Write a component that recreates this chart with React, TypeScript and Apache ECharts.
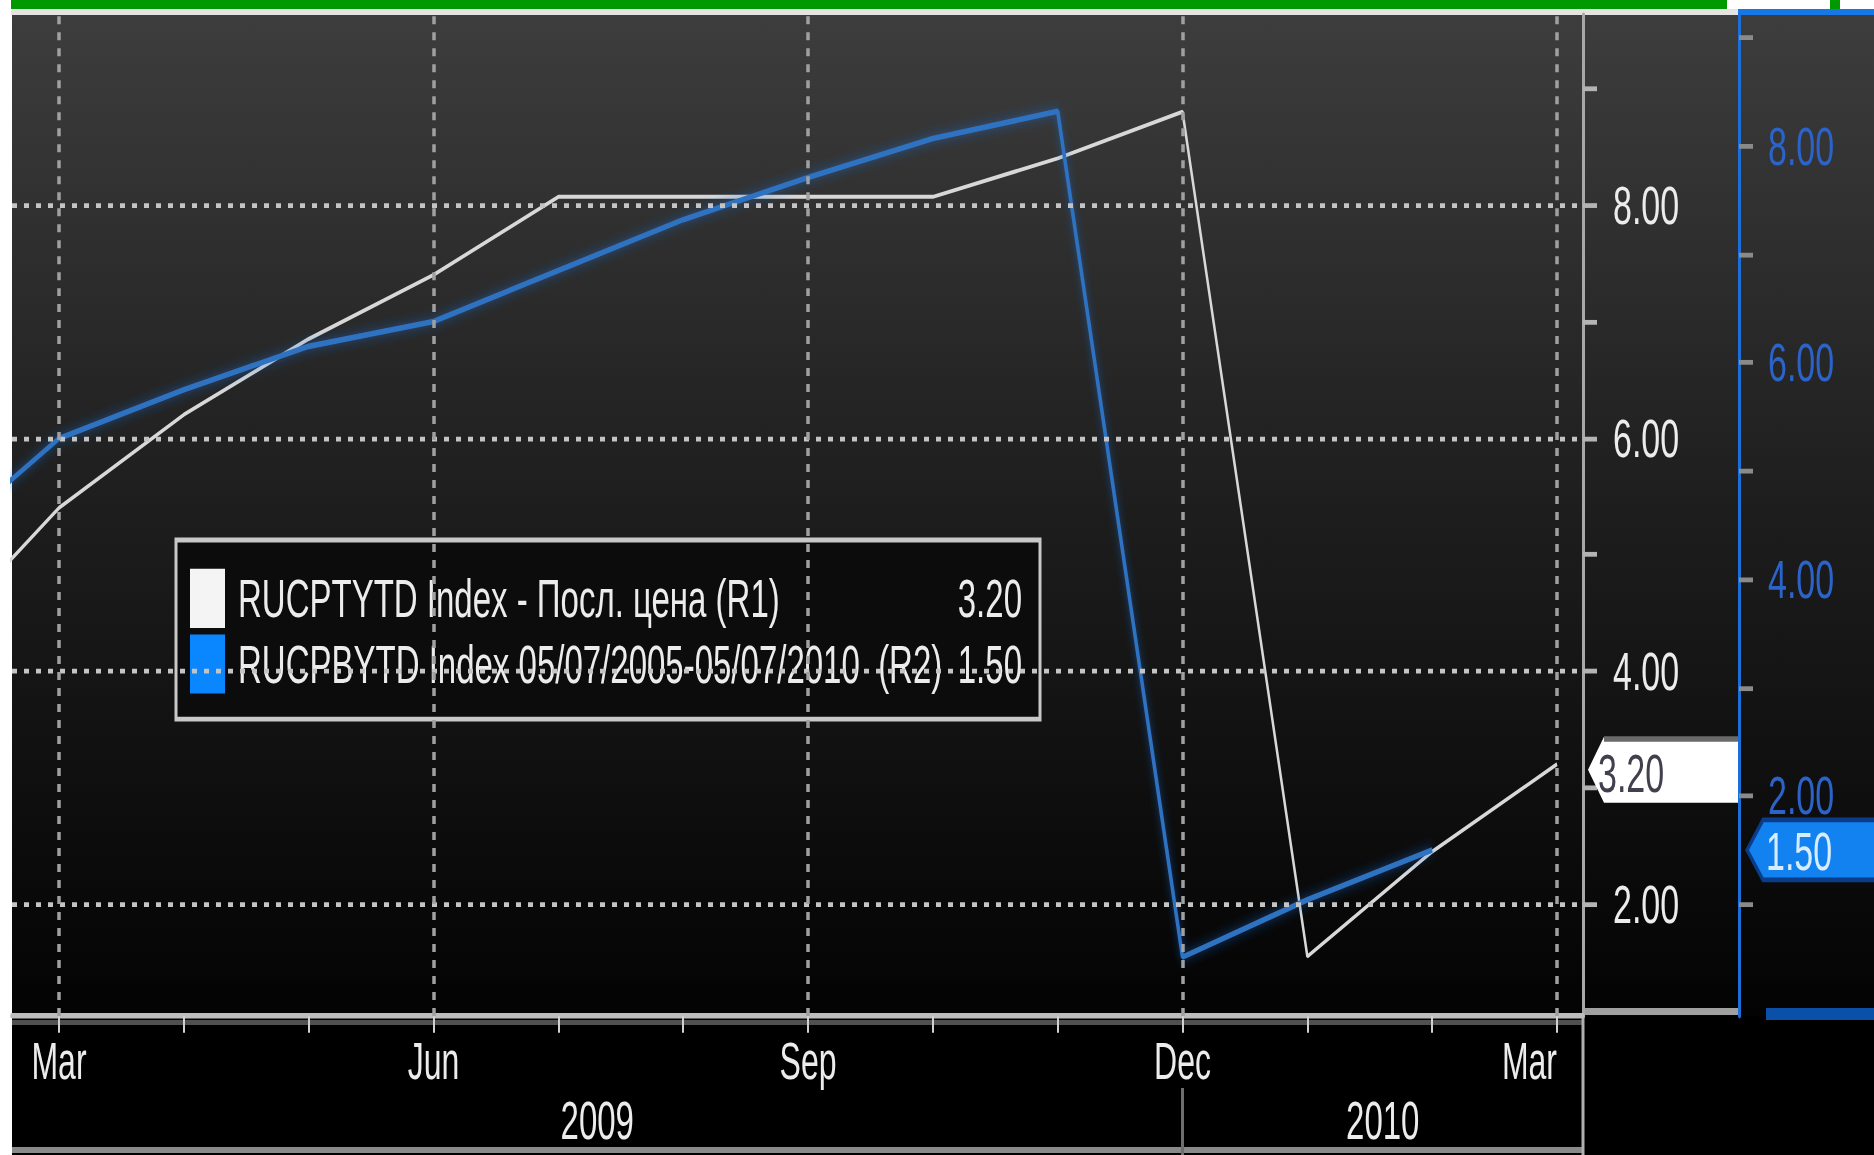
import React, { useEffect, useRef } from "react";
import * as echarts from "echarts";

// ---- data ----
const periods = ["Feb 2009", "Mar 2009", "Apr 2009", "May 2009", "Jun 2009", "Jul 2009", "Aug 2009", "Sep 2009", "Oct 2009", "Nov 2009", "Dec 2009", "Jan 2010", "Feb 2010", "Mar 2010"];
const periodX = [-1, 0, 1, 2, 3, 4, 5, 6, 7, 8, 9, 10, 11, 12];
const cpiYtd = [4.25, 5.4, 6.2, 6.85, 7.4, 8.07, 8.07, 8.07, 8.07, 8.4, 8.8, 1.55, 2.45, 3.2];
const coreYtd = [4.3, 5.3, 5.75, 6.15, 6.38, 6.85, 7.32, 7.71, 8.07, 8.32, 0.51, 1.04, 1.5, null];
const seriesNames = ["RUCPTYTD Index - Посл. цена (R1)", "RUCPBYTD Index 05/07/2005-05/07/2010  (R2)"];
const monthTickLabels = ["Mar", "Apr", "May", "Jun", "Jul", "Aug", "Sep", "Oct", "Nov", "Dec", "Jan", "Feb", "Mar"];
const monthTickValues = [0, 1, 2, 3, 4, 5, 6, 7, 8, 9, 10, 11, 12];
const monthLabelValues = [0, 3, 6, 9, 12];
const years = ["2009", "2010"];
const yearBoundary = 9;
const r1LabelValues = [2, 4, 6, 8];
const r1TickValues = [1, 2, 3, 4, 5, 6, 7, 8, 9];
const r2LabelValues = [2, 4, 6, 8];
const r2TickValues = [1, 2, 3, 4, 5, 6, 7, 8, 9];

// ---- layout ----
const W = 1874;
const H = 722;
const S = 1155 / H;
const FONT = "'Liberation Sans', Arial, Helvetica, sans-serif";
const X_MIN = -0.3765;
const X_MAX = 12.208;
const GRID_LEFT = 12;
const GRID_RIGHT_X = 1583;
const GRID_TOP = 15 / S;
const GRID_BOTTOM_Y = 1016 / S;

function lastValue(arr: (number | null)[]) {
  for (let i = arr.length - 1; i >= 0; i--) if (arr[i] != null) return arr[i] as number;
  return 0;
}

export default function App() {
  const ref = useRef<HTMLDivElement>(null);
  useEffect(() => {
    if (!ref.current) return;
    const chart = echarts.init(ref.current, null, { renderer: "svg" });
    const lastW = lastValue(cpiYtd);
    const lastB = lastValue(coreYtd);
    const lastVals = [lastW, lastB];
    const yearCenters = [(X_MIN + yearBoundary) / 2, (yearBoundary + X_MAX) / 2];

    const hGrid = r1LabelValues.map((v) => ({
      yAxis: v,
      lineStyle: { color: "#c4c4c4", type: [5, 7], width: 3 },
    }));
    const vGrid = monthLabelValues.map((v) => ({
      xAxis: v,
      lineStyle: { color: "#a0a0a0", type: [5, 5], width: 3.5 },
    }));

    const option: any = {
      animation: false,
      backgroundColor: "transparent",
      grid: {
        left: GRID_LEFT,
        top: GRID_TOP,
        width: GRID_RIGHT_X - GRID_LEFT,
        height: GRID_BOTTOM_Y - GRID_TOP,
        containLabel: false,
        outerBoundsMode: "none",
      },
      legend: {
        show: true,
        orient: "vertical",
        left: 176,
        top: 540 / S,
        backgroundColor: "#0c0c0c",
        borderColor: "#c8c8c8",
        borderWidth: 3,
        borderRadius: 0,
        padding: [18, 18, 16, 14],
        itemGap: 4,
        itemWidth: 35,
        itemHeight: 37,
        icon: "rect",
        selectedMode: false,
        data: [
          { name: seriesNames[0], itemStyle: { color: "#f4f4f4" } },
          { name: seriesNames[1], itemStyle: { color: "#0a86ff" } },
        ],
        formatter: (name: string) => {
          const i = seriesNames.indexOf(name);
          return `{n|${name}}{v|${lastVals[i].toFixed(2)}}`;
        },
        textStyle: {
          color: "#ececec",
          fontSize: 33,
          fontFamily: FONT,
          rich: {
            n: { width: 712, fontSize: 33, color: "#ececec", fontFamily: FONT, padding: [0, 0, 0, 8] },
            v: { width: 72, align: "right", fontSize: 33, color: "#ececec", fontFamily: FONT },
          },
        },
      },
      xAxis: [
        {
          type: "value",
          min: X_MIN,
          max: X_MAX,
          position: "bottom",
          axisLine: { show: true, onZero: false, lineStyle: { color: "#bdbdbd", width: 3.5 } },
          axisTick: { show: true, customValues: monthTickValues, length: 10.5, lineStyle: { color: "#d0d0d0", width: 2 } },
          axisLabel: {
            show: true,
            customValues: monthLabelValues,
            formatter: (v: number) => monthTickLabels[Math.round(v)],
            color: "#ececec",
            fontSize: 32,
            fontFamily: FONT,
            margin: 12,
            alignMaxLabel: "right",
          },
          splitLine: { show: false },
        },
        {
          type: "value",
          min: X_MIN,
          max: X_MAX,
          position: "bottom",
          offset: 1088 / S - GRID_BOTTOM_Y,
          axisLine: { show: false, onZero: false },
          axisTick: { show: true, customValues: [yearBoundary], length: 45, lineStyle: { color: "#6e6e6e", width: 3 } },
          axisLabel: {
            show: true,
            customValues: yearCenters,
            formatter: (v: number) => (v < yearBoundary ? years[0] : years[1]),
            color: "#ececec",
            fontSize: 33,
            fontFamily: FONT,
            margin: 4,
          },
          splitLine: { show: false },
        },
      ],
      yAxis: [
        {
          type: "value",
          position: "right",
          min: 8 - (GRID_BOTTOM_Y - 205 / S) / (116.5 / S),
          max: 8 + (205 / S - GRID_TOP) / (116.5 / S),
          axisLine: { show: true, onZero: false, lineStyle: { color: "#a8a8a8", width: 3 } },
          axisTick: { show: true, customValues: r1TickValues, length: 14, lineStyle: { color: "#b4b4b4", width: 3 } },
          axisLabel: {
            show: true,
            customValues: r1LabelValues,
            formatter: (v: number) => v.toFixed(2),
            color: "#ececec",
            fontSize: 34,
            fontFamily: FONT,
            margin: 30,
          },
          splitLine: { show: false },
        },
        {
          type: "value",
          position: "right",
          offset: 1739 - GRID_RIGHT_X,
          min: 8 - (GRID_BOTTOM_Y - 146 / S) / (108.3 / S),
          max: 8 + (146 / S - GRID_TOP) / (108.3 / S),
          axisLine: { show: true, onZero: false, lineStyle: { color: "#1c6fd8", width: 3 } },
          axisTick: { show: true, customValues: r2TickValues, length: 14, lineStyle: { color: "#8a8a8a", width: 3 } },
          axisLabel: {
            show: true,
            customValues: r2LabelValues,
            formatter: (v: number) => v.toFixed(2),
            color: "#2b63c8",
            fontSize: 34,
            fontFamily: FONT,
            margin: 29,
          },
          splitLine: { show: false },
        },
      ],
      series: [
        {
          name: seriesNames[0],
          type: "line",
          xAxisIndex: 0,
          yAxisIndex: 0,
          data: periodX.map((x, i) => [x, cpiYtd[i]]),
          symbol: "none",
          itemStyle: { color: "#f4f4f4" },
          lineStyle: { color: "#d8d8d8", width: 2.5 },
          z: 3,
          markLine: {
            silent: true,
            symbol: ["none", "none"],
            label: { show: false },
            animation: false,
            data: [...hGrid, ...vGrid],
          },
        },
        {
          name: seriesNames[1],
          type: "line",
          xAxisIndex: 0,
          yAxisIndex: 1,
          data: periodX.map((x, i) => [x, coreYtd[i]]).filter((d) => d[1] != null),
          symbol: "none",
          itemStyle: { color: "#0a86ff" },
          lineStyle: { color: "#2f72c2", width: 3.5, shadowBlur: 7, shadowColor: "rgba(30,110,220,0.6)" },
          z: 4,
        },
      ],
    };
    chart.setOption(option);

    const yW = chart.convertToPixel({ yAxisIndex: 0 }, lastW) as number;
    const yB = chart.convertToPixel({ yAxisIndex: 1 }, lastB) as number;
    const hW = 66 / S;
    const cW = yW + 3.5;
    const hB = 60 / S;
    const cB = yB;

    const graphics: any[] = [
      // background panels
      {
        type: "rect", z: -5, silent: true,
        shape: { x: GRID_LEFT, y: GRID_TOP, width: W - GRID_LEFT, height: GRID_BOTTOM_Y - GRID_TOP },
        style: {
          fill: new echarts.graphic.LinearGradient(0, 0, 0, 1, [
            { offset: 0, color: "#3d3d3d" },
            { offset: 0.5, color: "#1d1d1d" },
            { offset: 1, color: "#030303" },
          ]),
        },
      },
      { type: "rect", z: -5, silent: true, shape: { x: GRID_LEFT, y: GRID_BOTTOM_Y, width: W - GRID_LEFT, height: H - GRID_BOTTOM_Y }, style: { fill: "#000" } },
      { type: "rect", z: -4, silent: true, shape: { x: 11, y: 0, width: 1716, height: 9 / S }, style: { fill: "#009900" } },
      { type: "rect", z: -4, silent: true, shape: { x: 1830, y: 0, width: 10, height: 9 / S }, style: { fill: "#009900" } },
      { type: "rect", z: -4, silent: true, shape: { x: 11, y: 9 / S, width: 1727, height: 6 / S }, style: { fill: "#e4e4e4" } },
      { type: "rect", z: -4, silent: true, shape: { x: 1738, y: 9 / S, width: W - 1738, height: 6 / S }, style: { fill: "#1877e6" } },
      { type: "rect", z: -4, silent: true, shape: { x: 12, y: 1020 / S, width: GRID_RIGHT_X - 12, height: 5 / S }, style: { fill: "#505050" } },
      { type: "rect", z: -4, silent: true, shape: { x: 12, y: 1147 / S, width: GRID_RIGHT_X - 12, height: 6 / S }, style: { fill: "#8a8a8a" } },
      { type: "rect", z: -4, silent: true, shape: { x: GRID_RIGHT_X - 1.5, y: GRID_BOTTOM_Y, width: 3, height: H - GRID_BOTTOM_Y }, style: { fill: "#b0b0b0" } },
      { type: "rect", z: -4, silent: true, shape: { x: GRID_RIGHT_X, y: 1008 / S, width: 1740 - GRID_RIGHT_X, height: 7 / S }, style: { fill: "#a0a0a0" } },
      { type: "rect", z: -4, silent: true, shape: { x: 1766, y: 1008 / S, width: W - 1766, height: 12 / S }, style: { fill: "#0a4fa8" } },
      // last value markers
      {
        type: "polygon", z: 50, silent: true,
        shape: { points: [[1588, cW], [1604, cW - hW / 2], [1738, cW - hW / 2], [1738, cW + hW / 2], [1604, cW + hW / 2]] },
        style: { fill: "#ffffff" },
      },
      { type: "rect", z: 51, silent: true, shape: { x: 1604, y: cW - hW / 2, width: 134, height: 5 / S }, style: { fill: "#6a6a6a" } },
      {
        type: "text", z: 52, silent: true, x: 1598, y: cW + 2,
        style: { text: lastW.toFixed(2), fill: "#40404e", fontSize: 34, fontFamily: FONT, verticalAlign: "middle", align: "left" },
      },
      {
        type: "polygon", z: 50, silent: true,
        shape: { points: [[1747, cB], [1763, cB - hB / 2], [W + 5, cB - hB / 2], [W + 5, cB + hB / 2], [1763, cB + hB / 2]] },
        style: { fill: "#1282f0", stroke: "#0b3c8a", lineWidth: 3 },
      },
      {
        type: "text", z: 52, silent: true, x: 1766, y: cB + 1,
        style: { text: lastB.toFixed(2), fill: "#d8ecff", fontSize: 34, fontFamily: FONT, verticalAlign: "middle", align: "left" },
      },
    ];
    chart.setOption({ graphic: graphics });

    return () => chart.dispose();
  }, []);

  return (
    <div style={{ position: "fixed", left: 0, top: 0, width: W, height: 1155, background: "#ffffff", overflow: "hidden" }}>
      <div ref={ref} style={{ width: W, height: H, transform: `scaleY(${S})`, transformOrigin: "0 0" }} />
    </div>
  );
}
